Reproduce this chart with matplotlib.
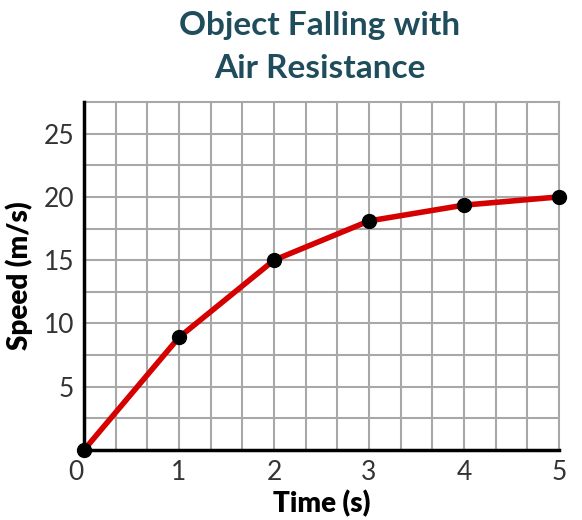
import matplotlib
matplotlib.use("Agg")
import matplotlib.pyplot as plt
import numpy as np

time_s = [0, 1, 2, 3, 4, 5]
speed = [0, 8.9, 15.0, 18.1, 19.35, 20.0]
x_ticks = [0, 1, 2, 3, 4, 5]
y_ticks = [5, 10, 15, 20, 25]

plt.rcParams['font.family'] = ['Lato', 'DejaVu Sans']

fig = plt.figure(figsize=(5.82, 5.2), dpi=100)
ax = fig.add_axes([84/582, 70/520, 475/582, 348/520])
ax.set_xlim(0, 5)
ax.set_ylim(0, 27.5)

for xv in np.arange(1, 15) / 3.0:
    ax.axvline(xv, color='#a8a8a8', lw=1.5, zorder=1)
for yv in np.arange(1, 11) * 2.5:
    ax.axhline(yv, color='#a8a8a8', lw=1.5, zorder=1)

ax.plot(time_s, speed, color='#d50000', lw=4, zorder=3, solid_capstyle='round')
ax.plot(time_s, speed, 'o', color='black', ms=10, zorder=4, clip_on=False)

ax.set_xticks(x_ticks)
ax.set_xticklabels([str(t) for t in x_ticks])
ax.set_yticks(y_ticks)
ax.set_yticklabels([str(t) for t in y_ticks])
ax.tick_params(length=0, labelsize=19, labelcolor='#333333', pad=7)
xl = ax.get_xticklabels()
xl[0].set_horizontalalignment('right')

for s in ['top', 'right']:
    ax.spines[s].set_color('#a8a8a8')
    ax.spines[s].set_linewidth(1.5)
for s in ['left', 'bottom']:
    ax.spines[s].set_color('black')
    ax.spines[s].set_linewidth(2.5)
    ax.spines[s].set_zorder(5)

ax.set_xlabel('Time (s)', fontsize=20, fontweight='heavy', labelpad=4)
ax.set_ylabel('Speed (m/s)', fontsize=20, fontweight='heavy', labelpad=8)

fig.text(320/582, 1 - 47/520, 'Object Falling with\nAir Resistance', ha='center', va='center',
         fontsize=24, fontweight='bold', color='#1f4d5c', linespacing=1.6)

fig.savefig('out.png', dpi=100)
